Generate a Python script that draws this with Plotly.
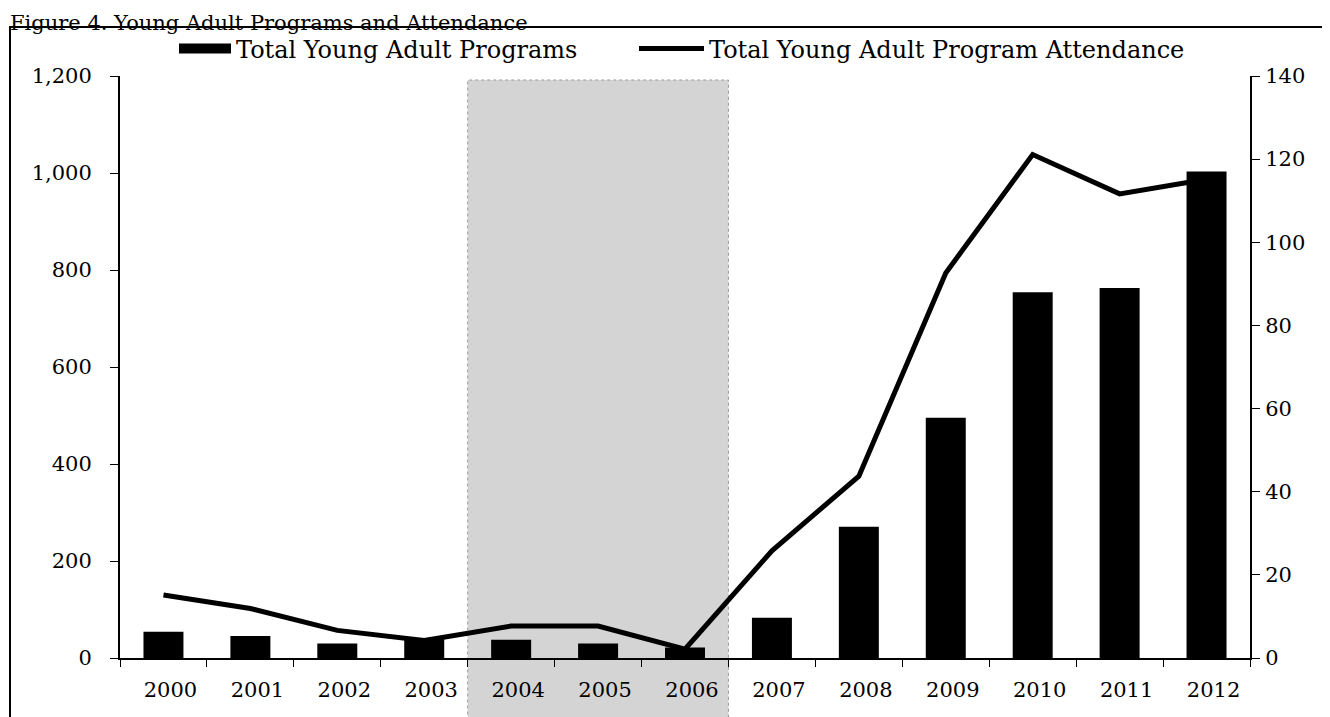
import plotly.graph_objects as go

years = ["2000", "2001", "2002", "2003", "2004", "2005", "2006",
         "2007", "2008", "2009", "2010", "2011", "2012"]
programs = [6.3, 5.3, 3.5, 4.7, 4.4, 3.5, 2.5, 9.7, 31.6, 57.8, 88, 89, 117]
attendance = [130, 102, 57, 36, 66, 66, 18, 221, 375, 794, 1038, 957, 987]
shade_from, shade_to = "2004", "2006"
left_ticks = [0, 200, 400, 600, 800, 1000, 1200]
right_ticks = [0, 20, 40, 60, 80, 100, 120, 140]

SERIF = "DejaVu Serif"
W, H = 1330, 717
L, R, T, B = 112, 88, 68, 67
PW, PH = W - L - R, H - T - B


def px_x(p):
    return (p - L) / PW


def px_y(p):
    return (H - B - p) / PH


fig = go.Figure()
fig.add_trace(go.Bar(x=years, y=programs, name="Total Young Adult Programs",
                     marker=dict(color="black", line=dict(width=0)),
                     yaxis="y", showlegend=False, legendgroup="prog"))
# legend-only entry so the swatch is a wide black block as in the original
fig.add_trace(go.Scatter(x=[None], y=[None], name="Total Young Adult Programs",
                         mode="lines", line=dict(color="black", width=14),
                         legendgroup="prog", yaxis="y", hoverinfo="skip",
                         legend="legend"))
fig.add_trace(go.Scatter(x=years, y=attendance, name="Total Young Adult Program Attendance",
                         mode="lines", line=dict(color="black", width=5),
                         yaxis="y2", legend="legend2"))

i0 = years.index(shade_from) - 0.5
i1 = years.index(shade_to) + 0.5
fig.add_shape(type="rect", xref="x", yref="paper", x0=i0, x1=i1,
              y0=px_y(H + 20), y1=px_y(T + 4),
              fillcolor="#d4d4d4", line=dict(color="#9a9a9a", width=1, dash="dot"),
              layer="below")
fig.add_shape(type="rect", xref="paper", yref="paper", x0=px_x(2), x1=px_x(1325),
              y0=px_y(H + 30), y1=px_y(19), line=dict(color="black", width=2),
              fillcolor="rgba(0,0,0,0)", layer="above")

fig.add_annotation(text="Figure 4. Young Adult Programs and Attendance",
                   xref="paper", yref="paper", x=px_x(0), y=px_y(0), xanchor="left",
                   yanchor="top", yshift=-1, showarrow=False,
                   font=dict(family=SERIF, size=21, color="black"))

tick_font = dict(family=SERIF, size=21, color="black")
legend_font = dict(family=SERIF, size=24, color="black")
fig.update_layout(
    width=W, height=H,
    margin=dict(l=L, r=R, t=T, b=B),
    paper_bgcolor="white", plot_bgcolor="rgba(0,0,0,0)",
    bargap=0.54,
    showlegend=True,
    legend=dict(orientation="h", x=px_x(166), xanchor="left", y=px_y(41), yanchor="middle",
                font=legend_font, itemwidth=52, bgcolor="rgba(0,0,0,0)"),
    legend2=dict(orientation="h", x=px_x(626), xanchor="left", y=px_y(41), yanchor="middle",
                 font=legend_font, itemwidth=65, bgcolor="rgba(0,0,0,0)"),
    xaxis=dict(type="category", showline=True, linecolor="black", linewidth=2,
               ticks="outside", tickson="boundaries", ticklen=7, tickcolor="black",
               tickfont=tick_font, ticklabelstandoff=12, ticklabelshift=7,
               showgrid=False, zeroline=False),
    yaxis=dict(side="right", range=[0, 140], tickvals=right_ticks, showline=True,
               linecolor="black", linewidth=2, ticks="outside", ticklen=8,
               tickcolor="black", tickfont=tick_font, ticklabelstandoff=1,
               showgrid=False, zeroline=False),
    yaxis2=dict(side="left", overlaying="y", range=[0, 1200], tickvals=left_ticks,
                tickformat=",", showline=True, linecolor="black", linewidth=2,
                ticks="outside", ticklen=8, tickcolor="black",
                tickfont=tick_font, ticklabelstandoff=14,
                showgrid=False, zeroline=False),
)

fig.write_html("out.html")
